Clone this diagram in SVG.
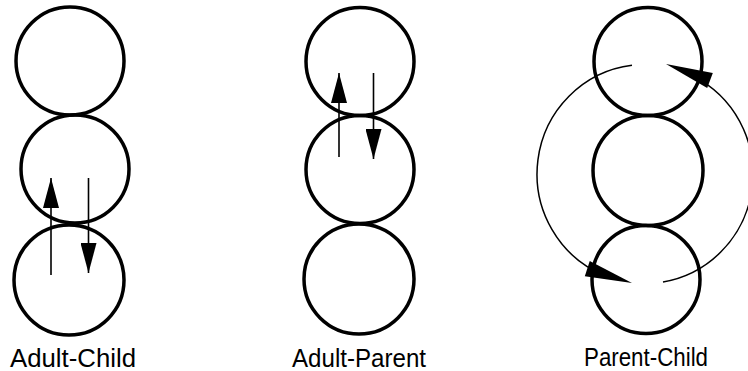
<svg xmlns="http://www.w3.org/2000/svg" width="748" height="371" viewBox="0 0 748 371">
  <style>
    .ego { fill: none; stroke: #000; stroke-width: 3.5; }
    .flow { fill: none; stroke: #000; stroke-width: 1.6; }
    .loop { fill: none; stroke: #000; stroke-width: 1.5; }
    .label { font-family: "Liberation Sans", Arial, sans-serif; font-size: 25px; fill: #000; text-anchor: middle; }
  </style>
  <defs>
    <marker id="head" markerUnits="userSpaceOnUse" viewBox="0 0 30 16" refX="30" refY="8" markerWidth="30" markerHeight="16" orient="auto">
      <path d="M0,0 L30,8 L0,16 Z" fill="#000"/>
    </marker>
    <!-- long arrowhead for the curved loop, tip at the origin pointing along +x -->
    <path id="loopHead" d="M0,0 L-47,-8 L-47,8 Z" fill="#000"/>
  </defs>

  <rect width="748" height="371" fill="#fff"/>

  <!-- Adult-Child -->
  <g id="adult-child">
    <circle class="ego" cx="70" cy="61" r="54"/>
    <circle class="ego" cx="75" cy="169" r="54"/>
    <circle class="ego" cx="69" cy="280" r="55"/>
    <text class="label" x="73" y="366.5" textLength="126" lengthAdjust="spacingAndGlyphs">Adult-Child</text>
  </g>

  <!-- Adult-Parent -->
  <g id="adult-parent">
    <circle class="ego" cx="360" cy="61.5" r="54"/>
    <circle class="ego" cx="360" cy="169.5" r="54"/>
    <circle class="ego" cx="359" cy="279" r="55"/>
    <text class="label" x="359" y="366.5" textLength="134" lengthAdjust="spacingAndGlyphs">Adult-Parent</text>
  </g>

  <!-- Parent-Child -->
  <g id="parent-child">
    <circle class="ego" cx="648" cy="61.5" r="54"/>
    <circle class="ego" cx="648" cy="170.5" r="55"/>
    <circle class="ego" cx="646" cy="279.5" r="54"/>
    <text class="label" x="646" y="366" textLength="124" lengthAdjust="spacingAndGlyphs">Parent-Child</text>
  </g>

  <!-- transactions -->
  <g id="connectors">
    <line class="flow" x1="51" y1="275" x2="51" y2="178" marker-end="url(#head)"/>
    <line class="flow" x1="88.5" y1="178" x2="88.5" y2="273" marker-end="url(#head)"/>

    <line class="flow" x1="339" y1="157" x2="339" y2="73" marker-end="url(#head)"/>
    <line class="flow" x1="373.5" y1="73" x2="373.5" y2="159" marker-end="url(#head)"/>

    <path class="loop" d="M632,65.3 A108,109.5 0 0 0 605,275.7"/>
    <use href="#loopHead" transform="translate(632,283) rotate(17.9)"/>
    <path class="loop" d="M663,282 A108,109.5 0 0 0 700,79.8"/>
    <use href="#loopHead" transform="translate(666,64) rotate(200.6)"/>
  </g>
</svg>
